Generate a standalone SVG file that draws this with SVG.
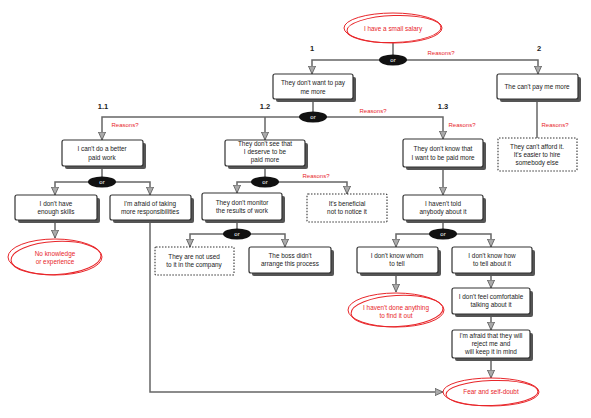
<svg xmlns="http://www.w3.org/2000/svg" width="591" height="418" viewBox="0 0 591 418">
<style>
text{font-family:"Liberation Sans","DejaVu Sans",sans-serif;}
.t{font-size:6.4px;fill:#222;text-anchor:middle;}
.r{font-size:6.4px;fill:#e8262a;text-anchor:middle;}
.rs{font-size:6px;fill:#e8262a;text-anchor:middle;}
.n{font-size:7.5px;font-weight:bold;fill:#222;text-anchor:middle;}
.o{font-size:6px;fill:#fff;text-anchor:middle;}
.box{fill:#fff;stroke:#333;stroke-width:1.2;}
.sh{fill:#555;}
.dash{fill:#fff;stroke:#333;stroke-width:1.1;stroke-dasharray:1.5 1.5;}
.red{fill:none;stroke:#e8262a;stroke-width:1;}
.c{fill:none;stroke:#666;stroke-width:1.5;}
.ca{fill:none;stroke:#666;stroke-width:1.5;marker-end:url(#arr);}
.or{fill:#111;}
</style>
<defs>
<marker id="arr" viewBox="0 0 10 10" refX="10" refY="5" markerWidth="8" markerHeight="8" markerUnits="userSpaceOnUse" orient="auto">
<path d="M0,0.5 L10,5 L0,9.5 z" fill="#aaa" stroke="#555" stroke-width="1"/>
</marker>
</defs>
<rect width="591" height="418" fill="#fff"/>

<g id="connectors">
<path class="c" d="M393,43 V56"/>
<path class="ca" d="M393,60 H312 V74"/>
<path class="ca" d="M393,60 H538 V74"/>
<path class="c" d="M313,100 V113"/>
<path class="ca" d="M313,117 H102 V140"/>
<path class="ca" d="M265,117 V140"/>
<path class="ca" d="M313,117 H443 V139"/>
<path class="c" d="M537,100 V138"/>
<path class="c" d="M102,167 V178"/>
<path class="ca" d="M102,182 H55 V195"/>
<path class="ca" d="M102,182 H150 V195"/>
<path class="ca" d="M55,221 V238"/>
<path class="ca" d="M150,221 V392 H443"/>
<path class="c" d="M265,167 V178"/>
<path class="ca" d="M265,182 H237 V193"/>
<path class="ca" d="M265,182 H347 V194"/>
<path class="c" d="M237,223 V230"/>
<path class="ca" d="M237,234 H190 V247"/>
<path class="ca" d="M237,234 H285 V247"/>
<path class="ca" d="M443,169 V195"/>
<path class="c" d="M443,221 V230"/>
<path class="ca" d="M443,234 H396 V247"/>
<path class="ca" d="M443,234 H491 V247"/>
<path class="ca" d="M396,274 V292"/>
<path class="ca" d="M491,274 V288"/>
<path class="ca" d="M491,315 V330"/>
<path class="ca" d="M491,359 V378"/>
</g>

<g id="labels">
<text class="n" x="312" y="51">1</text>
<text class="n" x="539" y="51">2</text>
<text class="n" x="103" y="109">1.1</text>
<text class="n" x="265" y="109">1.2</text>
<text class="n" x="443" y="109">1.3</text>
<text class="rs" x="441" y="55">Reasons?</text>
<text class="rs" x="373" y="113">Reasons?</text>
<text class="rs" x="125" y="127">Reasons?</text>
<text class="rs" x="462" y="127">Reasons?</text>
<text class="rs" x="555" y="127">Reasons?</text>
<text class="rs" x="316" y="178">Reasons?</text>
</g>

<g id="or-nodes">
<ellipse class="or" cx="393" cy="60" rx="14" ry="5.5"/><text class="o" x="393" y="62">or</text>
<ellipse class="or" cx="313" cy="117" rx="14" ry="5.5"/><text class="o" x="313" y="119">or</text>
<ellipse class="or" cx="102" cy="182" rx="14" ry="5.5"/><text class="o" x="102" y="184">or</text>
<ellipse class="or" cx="265" cy="182" rx="14" ry="5.5"/><text class="o" x="265" y="184">or</text>
<ellipse class="or" cx="237" cy="234" rx="14" ry="5.5"/><text class="o" x="237" y="236">or</text>
<ellipse class="or" cx="443" cy="234" rx="14" ry="5.5"/><text class="o" x="443" y="236">or</text>
</g>

<g id="root">
<ellipse class="red" cx="393" cy="28" rx="49" ry="15"/>
<ellipse class="red" cx="394" cy="29" rx="47" ry="13.5" transform="rotate(-2 394 29)"/>
<text class="r" x="393" y="31">I have a small salary</text>
</g>

<g id="n1">
<rect class="sh" x="276" y="77" width="80" height="25" rx="2"/>
<rect class="box" x="273" y="74" width="80" height="25" rx="2"/>
<text class="t" x="313" y="85">They don't want to pay</text>
<text class="t" x="313" y="94">me more</text>
</g>
<g id="n2">
<rect class="sh" x="500" y="77" width="81" height="25" rx="2"/>
<rect class="box" x="497" y="74" width="81" height="25" rx="2"/>
<text class="t" x="537" y="89">The can't pay me more</text>
</g>
<g id="n2a">
<rect class="dash" x="498" y="138" width="79" height="33" rx="1"/>
<text class="t" x="537" y="149">They can't afford it.</text>
<text class="t" x="537" y="157">It's easier to hire</text>
<text class="t" x="537" y="165">somebody else</text>
</g>
<g id="n11">
<rect class="sh" x="65" y="143" width="81" height="26" rx="2"/>
<rect class="box" x="62" y="140" width="81" height="26" rx="2"/>
<text class="t" x="102" y="151">I can't do a better</text>
<text class="t" x="102" y="160">paid work</text>
</g>
<g id="n12">
<rect class="sh" x="228" y="143" width="80" height="26" rx="2"/>
<rect class="box" x="225" y="140" width="80" height="26" rx="2"/>
<text class="t" x="265" y="146">They don't see that</text>
<text class="t" x="265" y="154">I deserve  to be</text>
<text class="t" x="265" y="162">paid more</text>
</g>
<g id="n13">
<rect class="sh" x="406" y="142" width="80" height="28" rx="2"/>
<rect class="box" x="403" y="139" width="80" height="28" rx="2"/>
<text class="t" x="443" y="151">They don't know that</text>
<text class="t" x="443" y="160">I want to be paid more</text>
</g>
<g id="n111">
<rect class="sh" x="18" y="198" width="82" height="25" rx="2"/>
<rect class="box" x="15" y="195" width="82" height="25" rx="2"/>
<text class="t" x="56" y="206">I don't have</text>
<text class="t" x="56" y="214">enough skills</text>
</g>
<g id="n112">
<rect class="sh" x="113" y="198" width="81" height="25" rx="2"/>
<rect class="box" x="110" y="195" width="81" height="25" rx="2"/>
<text class="t" x="150" y="206">I'm afraid of taking</text>
<text class="t" x="150" y="214">more responsibilities</text>
</g>
<g id="e111">
<ellipse class="red" cx="55" cy="257" rx="47" ry="18"/>
<ellipse class="red" cx="56" cy="258" rx="45" ry="16.5" transform="rotate(-3 56 258)"/>
<text class="r" x="55" y="256">No knowledge</text>
<text class="r" x="55" y="264">or experience</text>
</g>
<g id="n121">
<rect class="sh" x="205" y="196" width="80" height="27" rx="2"/>
<rect class="box" x="202" y="193" width="80" height="27" rx="2"/>
<text class="t" x="242" y="205">They don't monitor</text>
<text class="t" x="242" y="213">the results of work</text>
</g>
<g id="n122">
<rect class="dash" x="307" y="194" width="80" height="28" rx="1"/>
<text class="t" x="347" y="206">It's beneficial</text>
<text class="t" x="347" y="214">not to notice it</text>
</g>
<g id="n1211">
<rect class="dash" x="155" y="247" width="79" height="28" rx="1"/>
<text class="t" x="194" y="259">They are not used</text>
<text class="t" x="194" y="267">to it in the company</text>
</g>
<g id="n1212">
<rect class="sh" x="252" y="250" width="82" height="26" rx="2"/>
<rect class="box" x="249" y="247" width="82" height="26" rx="2"/>
<text class="t" x="290" y="258">The boss didn't</text>
<text class="t" x="290" y="266">arrange this process</text>
</g>
<g id="n131">
<rect class="sh" x="406" y="198" width="80" height="25" rx="2"/>
<rect class="box" x="403" y="195" width="80" height="25" rx="2"/>
<text class="t" x="443" y="206">I haven't told</text>
<text class="t" x="443" y="214">anybody about it</text>
</g>
<g id="n1311">
<rect class="sh" x="360" y="250" width="81" height="26" rx="2"/>
<rect class="box" x="357" y="247" width="81" height="26" rx="2"/>
<text class="t" x="397" y="258">I don't know whom</text>
<text class="t" x="397" y="266">to tell</text>
</g>
<g id="n1312">
<rect class="sh" x="455" y="250" width="80" height="26" rx="2"/>
<rect class="box" x="452" y="247" width="80" height="26" rx="2"/>
<text class="t" x="492" y="258">I don't know how</text>
<text class="t" x="492" y="266">to tell about it</text>
</g>
<g id="e1311">
<ellipse class="red" cx="396" cy="310" rx="48" ry="17"/>
<ellipse class="red" cx="397" cy="311" rx="46" ry="15.5" transform="rotate(-3 397 311)"/>
<text class="r" x="396" y="310">I haven't done anything</text>
<text class="r" x="396" y="318">to find it out</text>
</g>
<g id="n13121">
<rect class="sh" x="455" y="291" width="78" height="26" rx="2"/>
<rect class="box" x="452" y="288" width="78" height="26" rx="2"/>
<text class="t" x="491" y="299">I don't feel comfortable</text>
<text class="t" x="491" y="307">talking about it</text>
</g>
<g id="n13122">
<rect class="sh" x="455" y="333" width="78" height="28" rx="2"/>
<rect class="box" x="452" y="330" width="78" height="28" rx="2"/>
<text class="t" x="491" y="338">I'm afraid that they will</text>
<text class="t" x="491" y="346">reject me and</text>
<text class="t" x="491" y="354">will keep it in mind</text>
</g>
<g id="efear">
<ellipse class="red" cx="491" cy="392" rx="48" ry="14"/>
<ellipse class="red" cx="492" cy="393" rx="46" ry="12.5" transform="rotate(-2 492 393)"/>
<text class="r" x="491" y="394">Fear and self-doubt</text>
</g>
</svg>
